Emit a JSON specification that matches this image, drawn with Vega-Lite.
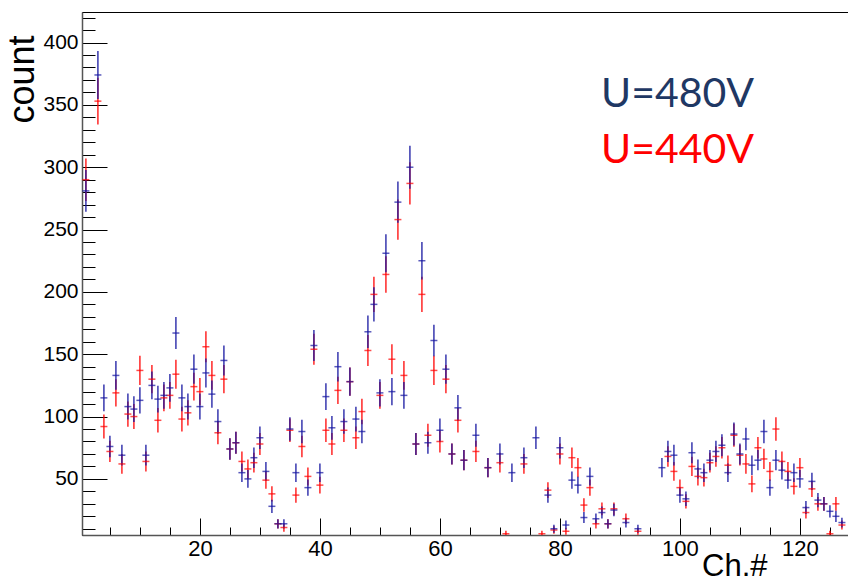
{
  "$schema": "https://vega.github.io/schema/vega-lite/v6.json",
  "width": 767,
  "height": 523,
  "autosize": {"type": "none"},
  "padding": {"left": 82, "top": 12, "right": 0, "bottom": 47},
  "background": "white",
  "view": {"stroke": "#000000", "strokeWidth": 1},
  "config": {"font": "Liberation Sans"},
  "data": {
    "values": [
      {"ch": 1, "U": "U=440V", "n": 290, "e": 17.0},
      {"ch": 3, "U": "U=440V", "n": 353, "e": 18.8},
      {"ch": 4, "U": "U=440V", "n": 92, "e": 9.6},
      {"ch": 5, "U": "U=440V", "n": 72, "e": 8.5},
      {"ch": 6, "U": "U=440V", "n": 119, "e": 10.9},
      {"ch": 7, "U": "U=440V", "n": 62, "e": 7.9},
      {"ch": 8, "U": "U=440V", "n": 102, "e": 10.1},
      {"ch": 9, "U": "U=440V", "n": 100, "e": 10.0},
      {"ch": 10, "U": "U=440V", "n": 137, "e": 11.7},
      {"ch": 11, "U": "U=440V", "n": 64, "e": 8.0},
      {"ch": 12, "U": "U=440V", "n": 130, "e": 11.4},
      {"ch": 13, "U": "U=440V", "n": 97, "e": 9.8},
      {"ch": 14, "U": "U=440V", "n": 115, "e": 10.7},
      {"ch": 15, "U": "U=440V", "n": 117, "e": 10.8},
      {"ch": 16, "U": "U=440V", "n": 134, "e": 11.6},
      {"ch": 17, "U": "U=440V", "n": 98, "e": 9.9},
      {"ch": 18, "U": "U=440V", "n": 103, "e": 10.1},
      {"ch": 19, "U": "U=440V", "n": 124, "e": 11.1},
      {"ch": 20, "U": "U=440V", "n": 120, "e": 11.0},
      {"ch": 21, "U": "U=440V", "n": 156, "e": 12.5},
      {"ch": 22, "U": "U=440V", "n": 133, "e": 11.5},
      {"ch": 23, "U": "U=440V", "n": 87, "e": 9.3},
      {"ch": 24, "U": "U=440V", "n": 130, "e": 11.4},
      {"ch": 25, "U": "U=440V", "n": 74, "e": 8.6},
      {"ch": 26, "U": "U=440V", "n": 79, "e": 8.9},
      {"ch": 27, "U": "U=440V", "n": 64, "e": 8.0},
      {"ch": 28, "U": "U=440V", "n": 58, "e": 7.6},
      {"ch": 29, "U": "U=440V", "n": 63, "e": 7.9},
      {"ch": 30, "U": "U=440V", "n": 78, "e": 8.8},
      {"ch": 31, "U": "U=440V", "n": 49, "e": 7.0},
      {"ch": 32, "U": "U=440V", "n": 38, "e": 6.2},
      {"ch": 33, "U": "U=440V", "n": 14, "e": 3.7},
      {"ch": 34, "U": "U=440V", "n": 11, "e": 3.3},
      {"ch": 35, "U": "U=440V", "n": 89, "e": 9.4},
      {"ch": 36, "U": "U=440V", "n": 37, "e": 6.1},
      {"ch": 37, "U": "U=440V", "n": 76, "e": 8.7},
      {"ch": 38, "U": "U=440V", "n": 52, "e": 7.2},
      {"ch": 39, "U": "U=440V", "n": 154, "e": 12.4},
      {"ch": 40, "U": "U=440V", "n": 45, "e": 6.7},
      {"ch": 41, "U": "U=440V", "n": 89, "e": 9.4},
      {"ch": 42, "U": "U=440V", "n": 78, "e": 8.8},
      {"ch": 43, "U": "U=440V", "n": 121, "e": 11.0},
      {"ch": 44, "U": "U=440V", "n": 89, "e": 9.4},
      {"ch": 45, "U": "U=440V", "n": 128, "e": 11.3},
      {"ch": 46, "U": "U=440V", "n": 83, "e": 9.1},
      {"ch": 47, "U": "U=440V", "n": 104, "e": 10.2},
      {"ch": 48, "U": "U=440V", "n": 153, "e": 12.4},
      {"ch": 49, "U": "U=440V", "n": 198, "e": 14.1},
      {"ch": 50, "U": "U=440V", "n": 117, "e": 10.8},
      {"ch": 51, "U": "U=440V", "n": 214, "e": 14.6},
      {"ch": 52, "U": "U=440V", "n": 146, "e": 12.1},
      {"ch": 53, "U": "U=440V", "n": 258, "e": 16.1},
      {"ch": 54, "U": "U=440V", "n": 133, "e": 11.5},
      {"ch": 55, "U": "U=440V", "n": 287, "e": 16.9},
      {"ch": 56, "U": "U=440V", "n": 78, "e": 8.8},
      {"ch": 57, "U": "U=440V", "n": 198, "e": 14.1},
      {"ch": 58, "U": "U=440V", "n": 85, "e": 9.2},
      {"ch": 59, "U": "U=440V", "n": 137, "e": 11.7},
      {"ch": 60, "U": "U=440V", "n": 80, "e": 8.9},
      {"ch": 61, "U": "U=440V", "n": 130, "e": 11.4},
      {"ch": 62, "U": "U=440V", "n": 70, "e": 8.4},
      {"ch": 63, "U": "U=440V", "n": 97, "e": 9.8},
      {"ch": 64, "U": "U=440V", "n": 65, "e": 8.1},
      {"ch": 66, "U": "U=440V", "n": 72, "e": 8.5},
      {"ch": 68, "U": "U=440V", "n": 59, "e": 7.7},
      {"ch": 70, "U": "U=440V", "n": 63, "e": 7.9},
      {"ch": 71, "U": "U=440V", "n": 6, "e": 2.4},
      {"ch": 74, "U": "U=440V", "n": 62, "e": 7.9},
      {"ch": 77, "U": "U=440V", "n": 6, "e": 2.4},
      {"ch": 78, "U": "U=440V", "n": 41, "e": 6.4},
      {"ch": 79, "U": "U=440V", "n": 9, "e": 3.0},
      {"ch": 80, "U": "U=440V", "n": 70, "e": 8.4},
      {"ch": 81, "U": "U=440V", "n": 8, "e": 2.8},
      {"ch": 82, "U": "U=440V", "n": 67, "e": 8.2},
      {"ch": 83, "U": "U=440V", "n": 59, "e": 7.7},
      {"ch": 84, "U": "U=440V", "n": 29, "e": 5.4},
      {"ch": 85, "U": "U=440V", "n": 43, "e": 6.6},
      {"ch": 86, "U": "U=440V", "n": 14, "e": 3.7},
      {"ch": 87, "U": "U=440V", "n": 26, "e": 5.1},
      {"ch": 88, "U": "U=440V", "n": 14, "e": 3.7},
      {"ch": 89, "U": "U=440V", "n": 26, "e": 5.1},
      {"ch": 91, "U": "U=440V", "n": 18, "e": 4.2},
      {"ch": 93, "U": "U=440V", "n": 8, "e": 2.8},
      {"ch": 98, "U": "U=440V", "n": 68, "e": 8.2},
      {"ch": 99, "U": "U=440V", "n": 56, "e": 7.5},
      {"ch": 100, "U": "U=440V", "n": 43, "e": 6.6},
      {"ch": 101, "U": "U=440V", "n": 32, "e": 5.7},
      {"ch": 102, "U": "U=440V", "n": 60, "e": 7.7},
      {"ch": 103, "U": "U=440V", "n": 52, "e": 7.2},
      {"ch": 104, "U": "U=440V", "n": 51, "e": 7.1},
      {"ch": 105, "U": "U=440V", "n": 63, "e": 7.9},
      {"ch": 106, "U": "U=440V", "n": 68, "e": 8.2},
      {"ch": 107, "U": "U=440V", "n": 75, "e": 8.7},
      {"ch": 108, "U": "U=440V", "n": 61, "e": 7.8},
      {"ch": 109, "U": "U=440V", "n": 85, "e": 9.2},
      {"ch": 110, "U": "U=440V", "n": 69, "e": 8.3},
      {"ch": 111, "U": "U=440V", "n": 62, "e": 7.9},
      {"ch": 112, "U": "U=440V", "n": 46, "e": 6.8},
      {"ch": 113, "U": "U=440V", "n": 75, "e": 8.7},
      {"ch": 114, "U": "U=440V", "n": 66, "e": 8.1},
      {"ch": 115, "U": "U=440V", "n": 56, "e": 7.5},
      {"ch": 116, "U": "U=440V", "n": 90, "e": 9.5},
      {"ch": 117, "U": "U=440V", "n": 64, "e": 8.0},
      {"ch": 118, "U": "U=440V", "n": 56, "e": 7.5},
      {"ch": 119, "U": "U=440V", "n": 44, "e": 6.6},
      {"ch": 120, "U": "U=440V", "n": 59, "e": 7.7},
      {"ch": 121, "U": "U=440V", "n": 23, "e": 4.8},
      {"ch": 122, "U": "U=440V", "n": 42, "e": 6.5},
      {"ch": 123, "U": "U=440V", "n": 30, "e": 5.5},
      {"ch": 124, "U": "U=440V", "n": 30, "e": 5.5},
      {"ch": 125, "U": "U=440V", "n": 6, "e": 2.4},
      {"ch": 126, "U": "U=440V", "n": 30, "e": 5.5},
      {"ch": 127, "U": "U=440V", "n": 13, "e": 3.6},
      {"ch": 1, "U": "U=480V", "n": 281, "e": 16.8},
      {"ch": 3, "U": "U=480V", "n": 374, "e": 19.3},
      {"ch": 4, "U": "U=480V", "n": 115, "e": 10.7},
      {"ch": 5, "U": "U=480V", "n": 76, "e": 8.7},
      {"ch": 6, "U": "U=480V", "n": 133, "e": 11.5},
      {"ch": 7, "U": "U=480V", "n": 69, "e": 8.3},
      {"ch": 8, "U": "U=480V", "n": 108, "e": 10.4},
      {"ch": 9, "U": "U=480V", "n": 106, "e": 10.3},
      {"ch": 10, "U": "U=480V", "n": 113, "e": 10.6},
      {"ch": 11, "U": "U=480V", "n": 69, "e": 8.3},
      {"ch": 12, "U": "U=480V", "n": 125, "e": 11.2},
      {"ch": 13, "U": "U=480V", "n": 114, "e": 10.7},
      {"ch": 14, "U": "U=480V", "n": 117, "e": 10.8},
      {"ch": 15, "U": "U=480V", "n": 123, "e": 11.1},
      {"ch": 16, "U": "U=480V", "n": 167, "e": 12.9},
      {"ch": 17, "U": "U=480V", "n": 115, "e": 10.7},
      {"ch": 18, "U": "U=480V", "n": 108, "e": 10.4},
      {"ch": 19, "U": "U=480V", "n": 138, "e": 11.7},
      {"ch": 20, "U": "U=480V", "n": 108, "e": 10.4},
      {"ch": 21, "U": "U=480V", "n": 135, "e": 11.6},
      {"ch": 22, "U": "U=480V", "n": 118, "e": 10.9},
      {"ch": 23, "U": "U=480V", "n": 96, "e": 9.8},
      {"ch": 24, "U": "U=480V", "n": 145, "e": 12.0},
      {"ch": 25, "U": "U=480V", "n": 74, "e": 8.6},
      {"ch": 26, "U": "U=480V", "n": 79, "e": 8.9},
      {"ch": 27, "U": "U=480V", "n": 55, "e": 7.4},
      {"ch": 28, "U": "U=480V", "n": 50, "e": 7.1},
      {"ch": 29, "U": "U=480V", "n": 67, "e": 8.2},
      {"ch": 30, "U": "U=480V", "n": 83, "e": 9.1},
      {"ch": 31, "U": "U=480V", "n": 56, "e": 7.5},
      {"ch": 32, "U": "U=480V", "n": 28, "e": 5.3},
      {"ch": 33, "U": "U=480V", "n": 14, "e": 3.7},
      {"ch": 34, "U": "U=480V", "n": 14, "e": 3.7},
      {"ch": 35, "U": "U=480V", "n": 90, "e": 9.5},
      {"ch": 36, "U": "U=480V", "n": 55, "e": 7.4},
      {"ch": 37, "U": "U=480V", "n": 88, "e": 9.4},
      {"ch": 38, "U": "U=480V", "n": 43, "e": 6.6},
      {"ch": 39, "U": "U=480V", "n": 157, "e": 12.5},
      {"ch": 40, "U": "U=480V", "n": 55, "e": 7.4},
      {"ch": 41, "U": "U=480V", "n": 116, "e": 10.8},
      {"ch": 42, "U": "U=480V", "n": 91, "e": 9.5},
      {"ch": 43, "U": "U=480V", "n": 140, "e": 11.8},
      {"ch": 44, "U": "U=480V", "n": 96, "e": 9.8},
      {"ch": 45, "U": "U=480V", "n": 128, "e": 11.3},
      {"ch": 46, "U": "U=480V", "n": 98, "e": 9.9},
      {"ch": 47, "U": "U=480V", "n": 88, "e": 9.4},
      {"ch": 48, "U": "U=480V", "n": 168, "e": 13.0},
      {"ch": 49, "U": "U=480V", "n": 190, "e": 13.8},
      {"ch": 50, "U": "U=480V", "n": 119, "e": 10.9},
      {"ch": 51, "U": "U=480V", "n": 231, "e": 15.2},
      {"ch": 52, "U": "U=480V", "n": 120, "e": 11.0},
      {"ch": 53, "U": "U=480V", "n": 272, "e": 16.5},
      {"ch": 54, "U": "U=480V", "n": 117, "e": 10.8},
      {"ch": 55, "U": "U=480V", "n": 300, "e": 17.3},
      {"ch": 56, "U": "U=480V", "n": 78, "e": 8.8},
      {"ch": 57, "U": "U=480V", "n": 225, "e": 15.0},
      {"ch": 58, "U": "U=480V", "n": 79, "e": 8.9},
      {"ch": 59, "U": "U=480V", "n": 161, "e": 12.7},
      {"ch": 60, "U": "U=480V", "n": 89, "e": 9.4},
      {"ch": 61, "U": "U=480V", "n": 138, "e": 11.7},
      {"ch": 62, "U": "U=480V", "n": 70, "e": 8.4},
      {"ch": 63, "U": "U=480V", "n": 107, "e": 10.3},
      {"ch": 64, "U": "U=480V", "n": 65, "e": 8.1},
      {"ch": 66, "U": "U=480V", "n": 85, "e": 9.2},
      {"ch": 68, "U": "U=480V", "n": 59, "e": 7.7},
      {"ch": 70, "U": "U=480V", "n": 70, "e": 8.4},
      {"ch": 72, "U": "U=480V", "n": 55, "e": 7.4},
      {"ch": 74, "U": "U=480V", "n": 67, "e": 8.2},
      {"ch": 76, "U": "U=480V", "n": 83, "e": 9.1},
      {"ch": 78, "U": "U=480V", "n": 37, "e": 6.1},
      {"ch": 79, "U": "U=480V", "n": 10, "e": 3.2},
      {"ch": 80, "U": "U=480V", "n": 75, "e": 8.7},
      {"ch": 81, "U": "U=480V", "n": 13, "e": 3.6},
      {"ch": 82, "U": "U=480V", "n": 49, "e": 7.0},
      {"ch": 83, "U": "U=480V", "n": 45, "e": 6.7},
      {"ch": 84, "U": "U=480V", "n": 19, "e": 4.4},
      {"ch": 85, "U": "U=480V", "n": 52, "e": 7.2},
      {"ch": 86, "U": "U=480V", "n": 18, "e": 4.2},
      {"ch": 87, "U": "U=480V", "n": 23, "e": 4.8},
      {"ch": 88, "U": "U=480V", "n": 14, "e": 3.7},
      {"ch": 89, "U": "U=480V", "n": 25, "e": 5.0},
      {"ch": 91, "U": "U=480V", "n": 15, "e": 3.9},
      {"ch": 93, "U": "U=480V", "n": 10, "e": 3.2},
      {"ch": 97, "U": "U=480V", "n": 59, "e": 7.7},
      {"ch": 98, "U": "U=480V", "n": 72, "e": 8.5},
      {"ch": 99, "U": "U=480V", "n": 69, "e": 8.3},
      {"ch": 100, "U": "U=480V", "n": 37, "e": 6.1},
      {"ch": 101, "U": "U=480V", "n": 34, "e": 5.8},
      {"ch": 102, "U": "U=480V", "n": 71, "e": 8.4},
      {"ch": 103, "U": "U=480V", "n": 58, "e": 7.6},
      {"ch": 104, "U": "U=480V", "n": 55, "e": 7.4},
      {"ch": 105, "U": "U=480V", "n": 65, "e": 8.1},
      {"ch": 106, "U": "U=480V", "n": 72, "e": 8.5},
      {"ch": 107, "U": "U=480V", "n": 77, "e": 8.8},
      {"ch": 108, "U": "U=480V", "n": 55, "e": 7.4},
      {"ch": 109, "U": "U=480V", "n": 86, "e": 9.3},
      {"ch": 110, "U": "U=480V", "n": 70, "e": 8.4},
      {"ch": 111, "U": "U=480V", "n": 82, "e": 9.1},
      {"ch": 112, "U": "U=480V", "n": 61, "e": 7.8},
      {"ch": 113, "U": "U=480V", "n": 65, "e": 8.1},
      {"ch": 114, "U": "U=480V", "n": 88, "e": 9.4},
      {"ch": 115, "U": "U=480V", "n": 43, "e": 6.6},
      {"ch": 116, "U": "U=480V", "n": 65, "e": 8.1},
      {"ch": 117, "U": "U=480V", "n": 57, "e": 7.5},
      {"ch": 118, "U": "U=480V", "n": 49, "e": 7.0},
      {"ch": 119, "U": "U=480V", "n": 55, "e": 7.4},
      {"ch": 120, "U": "U=480V", "n": 50, "e": 7.1},
      {"ch": 121, "U": "U=480V", "n": 27, "e": 5.2},
      {"ch": 122, "U": "U=480V", "n": 48, "e": 6.9},
      {"ch": 123, "U": "U=480V", "n": 33, "e": 5.7},
      {"ch": 124, "U": "U=480V", "n": 30, "e": 5.5},
      {"ch": 125, "U": "U=480V", "n": 24, "e": 4.9},
      {"ch": 126, "U": "U=480V", "n": 20, "e": 4.5},
      {"ch": 127, "U": "U=480V", "n": 15, "e": 3.9}
    ]
  },
  "encoding": {
    "x": {
      "field": "ch",
      "type": "quantitative",
      "scale": {"domain": [0.35, 128.18], "nice": false, "zero": false},
      "axis": {
        "title": "Ch.#",
        "titleFont": "Liberation Sans",
        "titleFontSize": 31,
        "titleFontWeight": "normal",
        "titleColor": "#000000",
        "titleAlign": "right",
        "titleBaseline": "alphabetic",
        "titleX": 685,
        "titleY": 40,
        "grid": false,
        "values": [5, 10, 15, 20, 25, 30, 35, 40, 45, 50, 55, 60, 65, 70, 75, 80, 85, 90, 95, 100, 105, 110, 115, 120, 125],
        "labelExpr": "datum.value % 20 === 0 ? datum.label : ''",
        "labelFontSize": 22,
        "labelColor": "#000000",
        "labelPadding": 20,
        "labelFlush": false,
        "labelOverlap": false,
        "tickSize": {"condition": {"test": "datum.value % 20 === 0", "value": -17}, "value": -8},
        "tickColor": "#000000",
        "tickWidth": 1,
        "domainColor": "#555555",
        "domainWidth": 1.5
      }
    },
    "y": {
      "field": "n",
      "type": "quantitative",
      "scale": {"domain": [5, 424.5], "nice": false, "zero": false},
      "axis": {
        "title": "count",
        "titleFont": "Liberation Sans",
        "titleFontSize": 36,
        "titleFontWeight": "normal",
        "titleColor": "#000000",
        "titleAngle": 270,
        "titleAlign": "right",
        "titleBaseline": "alphabetic",
        "titleX": -49,
        "titleY": 23,
        "grid": false,
        "values": [10, 20, 30, 40, 50, 60, 70, 80, 90, 100, 110, 120, 130, 140, 150, 160, 170, 180, 190, 200, 210, 220, 230, 240, 250, 260, 270, 280, 290, 300, 310, 320, 330, 340, 350, 360, 370, 380, 390, 400, 410, 420],
        "labelExpr": "datum.value % 50 === 0 ? datum.label : ''",
        "labelFontSize": 21,
        "labelColor": "#000000",
        "labelPadding": 29,
        "labelFlush": false,
        "labelOverlap": false,
        "tickSize": {"condition": {"test": "datum.value % 50 === 0", "value": -25}, "value": -13},
        "tickColor": "#000000",
        "tickWidth": 1,
        "domainColor": "#555555",
        "domainWidth": 1.5
      }
    },
    "color": {
      "field": "U",
      "type": "nominal",
      "scale": {"domain": ["U=480V", "U=440V"], "range": ["#1414a0", "#ff0000"]},
      "legend": {
        "orient": "none",
        "legendX": 478,
        "legendY": 62,
        "title": null,
        "values": ["U=480V", "U=440V"],
        "symbolOpacity": 0,
        "symbolSize": 0,
        "symbolStrokeWidth": 0,
        "labelFont": "Lato",
        "labelFontSize": 41,
        "labelLimit": 400,
        "labelOffset": 0,
        "rowPadding": 14,
        "encode": {
          "labels": {
            "update": {
              "fill": {"signal": "datum.value === 'U=480V' ? '#1f3864' : '#ff0000'"}
            }
          }
        }
      }
    }
  },
  "layer": [
    {
      "mark": {"type": "errorbar", "ticks": false, "thickness": 1.6, "opacity": 0.8, "clip": true},
      "encoding": {"yError": {"field": "e"}}
    },
    {
      "mark": {"type": "tick", "orient": "horizontal", "size": 7, "thickness": 1.5, "clip": true},
      "encoding": {}
    }
  ]
}
